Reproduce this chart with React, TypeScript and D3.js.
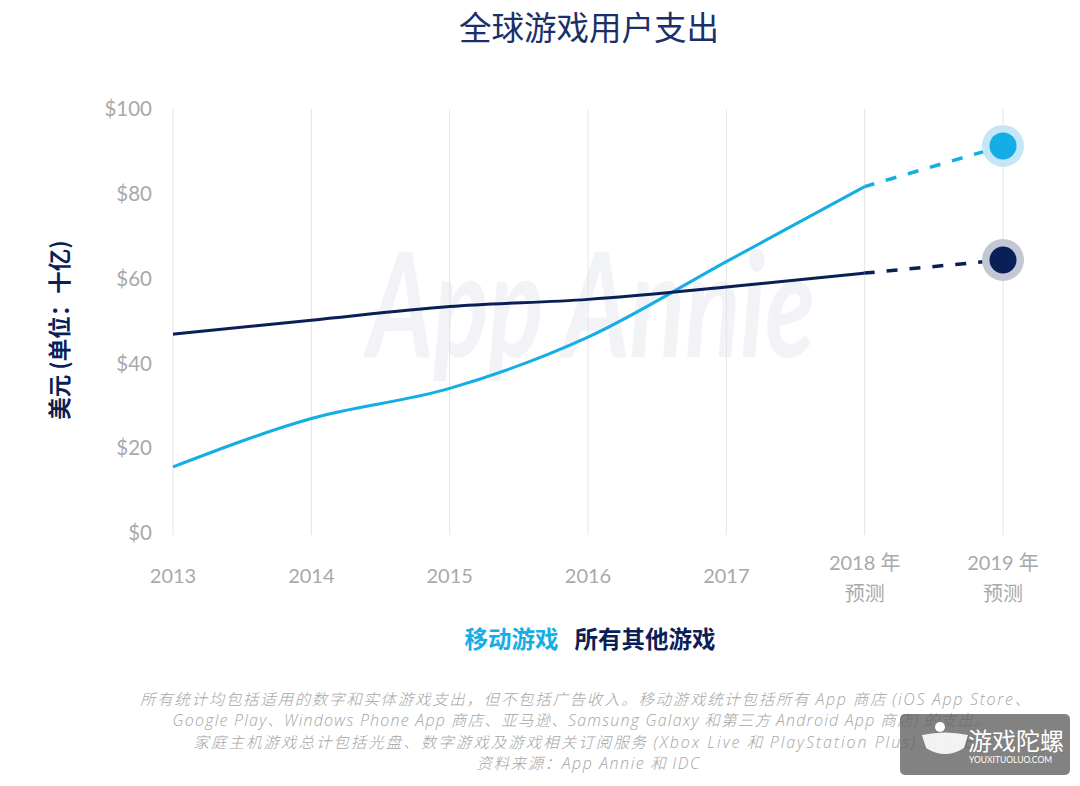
import React, { useEffect, useRef } from 'react';
import * as d3 from 'd3';

// chart data
const years = ['2013', '2014', '2015', '2016', '2017', '2018', '2019'];
const forecastYears = ['2018', '2019'];
const mobileGames = [15.6, 27.0, 34.1, 46.2, 64.0, 81.7, 91.3];
const otherGames = [46.9, 50.2, 53.4, 55.1, 58.0, 61.3, 64.4];
const yTicks = [0, 20, 40, 60, 80, 100];

const title = '全球游戏用户支出';
const yTitle = '美元 (单位：十亿)';
const legendNames = ['移动游戏', '所有其他游戏'];

// footnote lines: [text, latin?]
const notes: [string, boolean][][] = [
	[['所有统计均包括适用的数字和实体游戏支出，但不包括广告收入。移动游戏统计包括所有 ', false], ['App', true], [' 商店 ', false], ['(iOS App Store', true], ['、', false]],
	[['Google Play', true], ['、', false], ['Windows Phone App', true], [' 商店、亚马逊、', false], ['Samsung Galaxy', true], [' 和第三方 ', false], ['Android App', true], [' 商店', false], [')', true], [' 的支出。', false]],
	[['家庭主机游戏总计包括光盘、数字游戏及游戏相关订阅服务 ', false], ['(Xbox Live', true], [' 和 ', false], ['PlayStation Plus)', true], [' 的支出。', false]],
	[['资料来源：', false], ['App Annie', true], [' 和 ', false], ['IDC', true]],
];

const W = 1080;
const H = 786;
const LIGHT = '#14ade6';
const DARK = '#0b1f57';
const GREY = '#a9a9a9';
const FONT = "Lato, 'Noto Sans CJK SC', sans-serif";
const CJK = "'Noto Sans CJK SC', sans-serif";
const NOTE_LATIN = "'Open Sans', sans-serif";

export default function App() {
	const ref = useRef<SVGSVGElement>(null);

	useEffect(() => {
		const svg = d3.select(ref.current);
		svg.selectAll('*').remove();

		const x = d3.scalePoint<string>().domain(years).range([173, 1003]);
		const y = d3.scaleLinear().domain([0, 100]).range([533, 109]);

		// watermark
		svg.append('text')
			.attr('x', 591)
			.attr('y', 357)
			.attr('text-anchor', 'middle')
			.attr('font-family', FONT)
			.attr('font-style', 'italic')
			.attr('font-weight', 700)
			.attr('font-size', 145)
			.attr('textLength', 448)
			.attr('lengthAdjust', 'spacingAndGlyphs')
			.attr('fill', '#f2f3f6')
			.text('App Annie');

		// title
		svg.append('text')
			.attr('x', 589)
			.attr('y', 40)
			.attr('text-anchor', 'middle')
			.attr('font-family', CJK)
			.attr('font-size', 32.5)
			.attr('fill', '#1b2f6a')
			.text(title);

		// vertical grid lines
		svg.append('g')
			.selectAll('line')
			.data(years)
			.enter()
			.append('line')
			.attr('x1', d => x(d)!)
			.attr('x2', d => x(d)!)
			.attr('y1', y(100))
			.attr('y2', y(0) + 2)
			.attr('stroke', '#e4e4e4')
			.attr('stroke-width', 1);

		// y axis labels
		svg.append('g')
			.selectAll('text')
			.data(yTicks)
			.enter()
			.append('text')
			.attr('x', 152)
			.attr('y', d => y(d))
			.attr('dy', '0.35em')
			.attr('text-anchor', 'end')
			.attr('font-family', FONT)
			.attr('font-size', 20.5)
			.attr('fill', GREY)
			.text(d => '$' + d);

		svg.append('text')
			.attr('transform', 'translate(60,330) rotate(-90)')
			.attr('dy', '0.35em')
			.attr('text-anchor', 'middle')
			.attr('font-family', CJK)
			.attr('font-weight', 700)
			.attr('font-size', 22.5)
			.attr('fill', DARK)
			.text(yTitle);

		// x axis labels
		const xl = svg.append('g')
			.selectAll('text')
			.data(years)
			.enter()
			.append('text')
			.attr('x', d => x(d)!)
			.attr('text-anchor', 'middle')
			.attr('font-family', FONT)
			.attr('font-size', 20)
			.attr('fill', GREY);
		xl.filter(d => forecastYears.indexOf(d) < 0)
			.attr('y', 576)
			.attr('dy', '0.35em')
			.text(d => d);
		const fc = xl.filter(d => forecastYears.indexOf(d) >= 0);
		fc.append('tspan')
			.attr('x', d => x(d)!)
			.attr('y', 563)
			.attr('dy', '0.35em')
			.text(d => d + ' 年');
		fc.append('tspan')
			.attr('x', d => x(d)!)
			.attr('y', 594)
			.attr('dy', '0.35em')
			.text('预测');

		// lines: solid for actuals, dashed into the forecast
		const series = [
			{ values: mobileGames, color: LIGHT, halo: '#c4e6f7' },
			{ values: otherGames, color: DARK, halo: '#c3c7d3' },
		];
		const line = d3.line<number>()
			.x((d, i) => x(years[i])!)
			.y(d => y(d))
			.curve(d3.curveMonotoneX);
		const last = years.length - 1;

		for (const s of series) {
			svg.append('path')
				.datum(s.values.slice(0, last))
				.attr('d', line)
				.attr('fill', 'none')
				.attr('stroke', s.color)
				.attr('stroke-width', 3);

			svg.append('line')
				.attr('x1', x(years[last - 1])!)
				.attr('y1', y(s.values[last - 1]))
				.attr('x2', x(years[last])!)
				.attr('y2', y(s.values[last]))
				.attr('stroke', s.color)
				.attr('stroke-width', 3.5)
				.attr('stroke-dasharray', '11 12')
				.attr('stroke-dashoffset', 1);

			svg.append('circle')
				.attr('cx', x(years[last])!)
				.attr('cy', y(s.values[last]))
				.attr('r', 21)
				.attr('fill', s.halo);
			svg.append('circle')
				.attr('cx', x(years[last])!)
				.attr('cy', y(s.values[last]))
				.attr('r', 13.5)
				.attr('fill', s.color);
		}

		// legend
		const leg = svg.append('text')
			.attr('x', 590)
			.attr('y', 640)
			.attr('dy', '0.35em')
			.attr('text-anchor', 'middle')
			.attr('font-family', CJK)
			.attr('font-weight', 700)
			.attr('font-size', 23.5);
		leg.append('tspan').attr('fill', LIGHT).text(legendNames[0]);
		leg.append('tspan').attr('fill', DARK).attr('dx', 16).text(legendNames[1]);

		// footnotes, all slanted and light
		const noteY = [700, 721, 743, 764];
		const noteWidth = [890, 817, 797, 223];
		const noteX = [585, 581, 592, 588];
		notes.forEach((parts, i) => {
			const t = svg.append('text')
				.attr('x', noteX[i])
				.attr('y', noteY[i])
				.attr('dy', '0.35em')
				.attr('text-anchor', 'middle')
				.attr('font-size', 15.5)
				.attr('font-weight', 300)
				.attr('font-style', 'italic')
				.attr('textLength', noteWidth[i])
				.attr('fill', '#a5a5a5');
			for (const [txt, latin] of parts) {
				t.append('tspan')
					.attr('font-family', latin ? NOTE_LATIN : CJK)
					.attr('font-size', latin ? 16 : 15.5)
					.text(txt);
			}
		});

		// site badge bottom right, drawn over the notes as in the source image
		const badge = svg.append('g');
		badge.append('rect')
			.attr('x', 900).attr('y', 714)
			.attr('width', 170).attr('height', 61)
			.attr('rx', 5)
			.attr('fill', 'rgba(95,95,95,0.78)');
		badge.append('path')
			.attr('d', 'M922,735 Q945,730 968,735 L964,748 Q945,760 926,748 Z')
			.attr('fill', '#ffffff')
			.attr('opacity', 0.9);
		badge.append('circle')
			.attr('cx', 940).attr('cy', 727).attr('r', 5)
			.attr('fill', '#ffffff');
		badge.append('text')
			.attr('x', 968).attr('y', 750)
			.attr('font-family', CJK)
			.attr('font-size', 24)
			.attr('fill', '#ffffff')
			.text('游戏陀螺');
		badge.append('text')
			.attr('x', 969).attr('y', 760)
			.attr('dy', '0.35em')
			.attr('font-family', FONT)
			.attr('font-size', 8.5)
			.attr('fill', '#ffffff')
			.text('YOUXITUOLUO.COM');
	}, []);

	return (
		<svg ref={ref} width={W} height={H} style={{ position: 'absolute', left: 0, top: 0, background: '#fff' }} />
	);
}
